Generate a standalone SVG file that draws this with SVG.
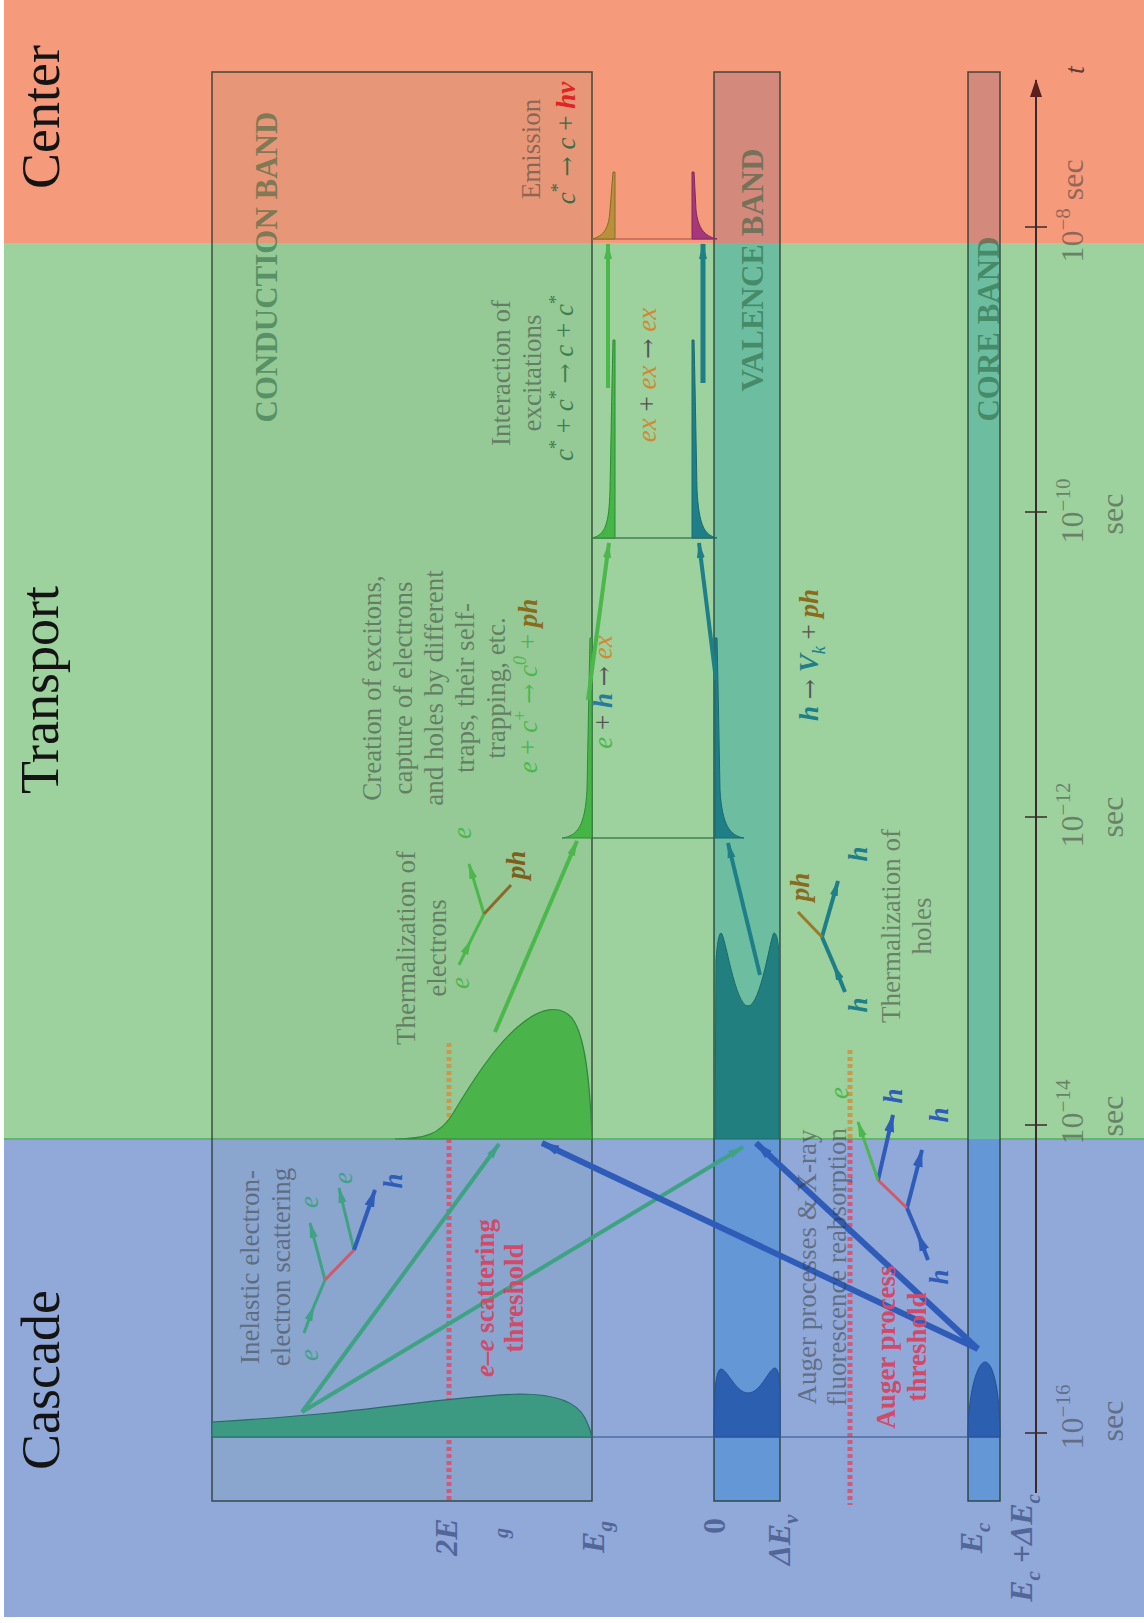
<svg xmlns="http://www.w3.org/2000/svg" width="1144" height="1623" viewBox="0 0 1144 1623">
<style>
.s{font-family:"Liberation Serif","Times New Roman",serif}
.d{font-size:27px;fill:#333;fill-opacity:.5}
.title{font-size:54px;fill:#141414}
.band{font-size:31px;font-weight:bold;fill:#245f3a;fill-opacity:.55}
.thr{font-size:27px;font-weight:bold;fill:#d24a6a}
.tick{font-size:32px;fill:#333;fill-opacity:.5}
.ax{font-size:32px;font-weight:bold;font-style:italic;fill:#53669a}
.bi{font-weight:bold;font-style:italic}
.i{font-style:italic}
.lbl{font-size:27px}
.ar{font-family:"DejaVu Serif",serif;font-size:24px}
</style>
<defs>
<marker id="aG" viewBox="0 0 16 10" markerWidth="16" markerHeight="10" refX="15" refY="5" orient="auto" markerUnits="userSpaceOnUse"><path d="M0,1 L16,5 L0,9 Z" fill="#4cb84c"/></marker>
<marker id="aGT" viewBox="0 0 16 10" markerWidth="16" markerHeight="10" refX="15" refY="5" orient="auto" markerUnits="userSpaceOnUse"><path d="M0,1 L16,5 L0,9 Z" fill="#3fa383"/></marker>
<marker id="aT" viewBox="0 0 16 10" markerWidth="16" markerHeight="10" refX="15" refY="5" orient="auto" markerUnits="userSpaceOnUse"><path d="M0,1 L16,5 L0,9 Z" fill="#1f7f88"/></marker>
<marker id="aB" viewBox="0 0 18 12" markerWidth="18" markerHeight="12" refX="17" refY="6" orient="auto" markerUnits="userSpaceOnUse"><path d="M0,1 L18,6 L0,11 Z" fill="#2f5cb8"/></marker>
<marker id="aX" viewBox="0 0 18 12" markerWidth="18" markerHeight="12" refX="17" refY="6" orient="auto" markerUnits="userSpaceOnUse"><path d="M0,0 L18,6 L0,12 Z" fill="#5a2020"/></marker>
</defs>

<g id="background">
<rect x="4" y="0" width="1140" height="243" fill="#f59a7b"/>
<rect x="4" y="243" width="1140" height="896" fill="#9dd19d"/>
<rect x="4" y="1139" width="1140" height="478" fill="#91a9d9"/>
<line x1="4" y1="1139" x2="1144" y2="1139" stroke="#62b66a" stroke-width="2"/>
</g>

<g id="titles" class="s title">
<text transform="translate(59,117) rotate(-90)" text-anchor="middle">Center</text>
<text transform="translate(58,690) rotate(-90)" text-anchor="middle">Transport</text>
<text transform="translate(59,1380) rotate(-90)" text-anchor="middle">Cascade</text>
</g>

<g id="conduction-band">
<rect x="212" y="72" width="380" height="1429" fill="#3c6e46" fill-opacity=".07" stroke="#1f3328" stroke-opacity=".8" stroke-width="1.5"/>
<text class="s band" transform="translate(277,267) rotate(-90)" text-anchor="middle">CONDUCTION BAND</text>
</g>

<g id="valence-band">
<rect x="714" y="72" width="66" height="171" fill="#d4897d"/>
<rect x="714" y="243" width="66" height="896" fill="#6dbea0"/>
<rect x="714" y="1139" width="66" height="362" fill="#6497d6"/>
<rect x="714" y="72" width="66" height="1429" fill="none" stroke="#1f3328" stroke-opacity=".8" stroke-width="1.5"/>
<text class="s band" transform="translate(763,270) rotate(-90)" text-anchor="middle">VALENCE BAND</text>
</g>

<g id="core-band">
<rect x="968" y="72" width="32" height="171" fill="#d4897d"/>
<rect x="968" y="243" width="32" height="896" fill="#6dbea0"/>
<rect x="968" y="1139" width="32" height="362" fill="#6497d6"/>
<rect x="968" y="72" width="32" height="1429" fill="none" stroke="#1f3328" stroke-opacity=".8" stroke-width="1.5"/>
<text class="s band" transform="translate(999,329) rotate(-90)" text-anchor="middle">CORE BAND</text>
</g>

<g id="time-axis">
<line x1="1036" y1="1493" x2="1036" y2="80" stroke="#3a2a2a" stroke-width="2" marker-end="url(#aX)"/>
<g stroke="#3a2a2a" stroke-width="1.5">
<line x1="1025" y1="1433" x2="1047" y2="1433"/>
<line x1="1025" y1="1125" x2="1047" y2="1125"/>
<line x1="1025" y1="817" x2="1047" y2="817"/>
<line x1="1025" y1="512" x2="1047" y2="512"/>
<line x1="1025" y1="227" x2="1047" y2="227"/>
</g>
<text class="s i" font-size="28" fill="#6a3a30" transform="translate(1084,70) rotate(-90)" text-anchor="middle">t</text>
<g class="s tick">
<text transform="translate(1083,1417) rotate(-90)" text-anchor="middle">10<tspan font-size="21" dy="-13">−16</tspan></text>
<text transform="translate(1123,1421) rotate(-90)" text-anchor="middle">sec</text>
<text transform="translate(1083,1112) rotate(-90)" text-anchor="middle">10<tspan font-size="21" dy="-13">−14</tspan></text>
<text transform="translate(1123,1116) rotate(-90)" text-anchor="middle">sec</text>
<text transform="translate(1083,815) rotate(-90)" text-anchor="middle">10<tspan font-size="21" dy="-13">−12</tspan></text>
<text transform="translate(1123,817) rotate(-90)" text-anchor="middle">sec</text>
<text transform="translate(1083,511) rotate(-90)" text-anchor="middle">10<tspan font-size="21" dy="-13">−10</tspan></text>
<text transform="translate(1123,514) rotate(-90)" text-anchor="middle">sec</text>
<text transform="translate(1083,211) rotate(-90)" text-anchor="middle">10<tspan font-size="21" dy="-13">−8</tspan><tspan dy="13"> sec</tspan></text>
</g>
</g>

<g id="energy-labels" class="s ax">
<text transform="translate(457,1537) rotate(-90)" text-anchor="middle">2E</text>
<text font-size="20" transform="translate(508,1533) rotate(-90)" text-anchor="middle">g</text>
<text transform="translate(604,1537) rotate(-90)" text-anchor="middle">E<tspan font-size="21" dy="8">g</tspan></text>
<text font-style="normal" transform="translate(725,1526) rotate(-90)" text-anchor="middle">0</text>
<text transform="translate(790,1540) rotate(-90)" text-anchor="middle">ΔE<tspan font-size="21" dy="8">v</tspan></text>
<text transform="translate(982,1538) rotate(-90)" text-anchor="middle">E<tspan font-size="21" dy="8">c</tspan></text>
<text transform="translate(1032,1548) rotate(-90)" text-anchor="middle">E<tspan font-size="21" dy="8">c</tspan><tspan dy="-8"> +ΔE</tspan><tspan font-size="21" dy="8">c</tspan></text>
</g>

<g id="thresholds" stroke-width="5" stroke-dasharray="4 3">
<line x1="449" y1="1043" x2="449" y2="1139" stroke="#c99a4e"/>
<line x1="449" y1="1139" x2="449" y2="1501" stroke="#d05a78"/>
<line x1="850" y1="1050" x2="850" y2="1139" stroke="#c99a4e"/>
<line x1="850" y1="1139" x2="850" y2="1505" stroke="#d05a78"/>
</g>

<g id="baselines" fill="none" stroke-width="1.5">
<line x1="212" y1="1437" x2="1000" y2="1437" stroke="#3f5f96" stroke-opacity=".8"/>
<line x1="592" y1="838" x2="715" y2="838" stroke="#2e6a3e" stroke-opacity=".8"/>
<line x1="592" y1="538" x2="715" y2="538" stroke="#2e6a3e" stroke-opacity=".8"/>
<line x1="592" y1="239" x2="715" y2="239" stroke="#b0604a" stroke-opacity=".8"/>
</g>

<g id="distributions">
<path id="dist-cascade-cb" d="M212,1437 L212,1422 C260,1419 300,1416 330,1413 C400,1406 460,1396 520,1394 C558,1394 578,1404 585,1418 Q590,1428 592,1437 Z" fill="#3d9a82" stroke="#2a6a6a" stroke-width="1.2"/>
<path id="dist-cascade-vb" d="M714,1437 L715,1390 C716,1378 718,1369 721,1369 C727,1369 736,1393 748,1393 C761,1393 769,1368 775,1368 C778,1368 780,1378 780,1390 L780,1437 Z" fill="#2d5fb0" stroke="#23509a" stroke-width="1"/>
<path id="dist-cascade-core" d="M968,1437 C968,1390 978,1362 985,1362 C993,1362 1000,1390 1000,1437 Z" fill="#2d5fb0" stroke="#23509a" stroke-width="1"/>
<path id="dist-14-cb" d="M395,1139 C425,1139 440,1134 452,1115 C470,1085 495,1045 520,1025 C540,1008 560,1004 572,1018 C585,1035 590,1080 592,1139 Z" fill="#4ab44a" stroke="#2f8a3a" stroke-width="1.2"/>
<path id="dist-14-vb" d="M715,1139 L716,960 C717,945 719,933 721,933 C725,933 735,1006 748,1006 C761,1006 771,933 774,933 C777,933 779,945 779,960 L779,1139 Z" fill="#21807f" stroke="#1a6a6a" stroke-width="1"/>
<path id="dist-12-cb" d="M562,838 C578,836 585,825 587,790 C588,740 589,680 590,638 L592,638 L592,838 Z" fill="#45b545" stroke="#2f8a3a" stroke-width="1"/>
<path id="dist-12-vb" d="M715,838 L715,638 L717,638 C718,680 719,740 720,790 C722,825 730,836 744,838 Z" fill="#1f7f88" stroke="#1a6a70" stroke-width="1"/>
<path id="dist-10-cb" d="M592,538 C605,535 609,525 610,490 C611,440 612,380 613,340 L615,340 L615,538 Z" fill="#45b545" stroke="#2f8a3a" stroke-width="1"/>
<path id="dist-10-vb" d="M692,538 L692,340 L694,340 C695,380 696,440 697,490 C699,525 704,535 717,538 Z" fill="#1f7f88" stroke="#1a6a70" stroke-width="1"/>
<path id="dist-8-cb" d="M592,239 C604,236 609,228 610,210 L613,172 L615,172 L615,239 Z" fill="#b8903a" stroke="#8a6a2a" stroke-width="1"/>
<path id="dist-8-vb" d="M692,239 L692,172 L694,172 L696,210 C698,228 704,236 717,239 Z" fill="#a8367a" stroke="#802a5a" stroke-width="1"/>
</g>

<g id="connectors" fill="none">
<line x1="302" y1="1412" x2="499" y2="1144" stroke="#3fa383" stroke-width="4" marker-end="url(#aGT)"/>
<line x1="302" y1="1412" x2="743" y2="1147" stroke="#3fa383" stroke-width="4" marker-end="url(#aGT)"/>
<line x1="978" y1="1349" x2="542" y2="1143" stroke="#2f5cb8" stroke-width="6" marker-end="url(#aB)"/>
<line x1="978" y1="1349" x2="756" y2="1143" stroke="#2f5cb8" stroke-width="6" marker-end="url(#aB)"/>
<line x1="495" y1="1032" x2="577" y2="841" stroke="#4cb84c" stroke-width="4" marker-end="url(#aG)"/>
<line x1="760" y1="975" x2="728" y2="843" stroke="#1f7f88" stroke-width="4" marker-end="url(#aT)"/>
<line x1="588" y1="700" x2="609" y2="543" stroke="#4cb84c" stroke-width="4" marker-end="url(#aG)"/>
<line x1="716" y1="680" x2="699" y2="543" stroke="#1f7f88" stroke-width="4" marker-end="url(#aT)"/>
<line x1="608" y1="388" x2="608" y2="244" stroke="#4cb84c" stroke-width="4" marker-end="url(#aG)"/>
<line x1="703" y1="383" x2="703" y2="244" stroke="#1f7f88" stroke-width="5" marker-end="url(#aT)"/>
</g>

<g id="inelastic-scattering">
<path d="M304,1333 L314,1306 L325,1280" fill="none" stroke="#3fa383" stroke-width="3" marker-mid="url(#aGT)"/>
<line x1="325" y1="1280" x2="310" y2="1223" stroke="#3fa383" stroke-width="3" marker-end="url(#aGT)"/>
<line x1="325" y1="1280" x2="354" y2="1250" stroke="#d05a6a" stroke-width="3"/>
<line x1="354" y1="1250" x2="339" y2="1188" stroke="#3fa383" stroke-width="3" marker-end="url(#aGT)"/>
<line x1="354" y1="1250" x2="375" y2="1190" stroke="#2f5cb8" stroke-width="4" marker-end="url(#aB)"/>
<g class="s lbl" fill="#3fa383">
<text class="i" transform="translate(318,1355) rotate(-90)" text-anchor="middle">e</text>
<text class="i" transform="translate(318,1202) rotate(-90)" text-anchor="middle">e</text>
<text class="i" transform="translate(352,1178) rotate(-90)" text-anchor="middle">e</text>
<text class="bi" fill="#2f5cb8" transform="translate(402,1181) rotate(-90)" text-anchor="middle">h</text>
</g>
<text class="s d" transform="translate(259,1267) rotate(-90)" text-anchor="middle"><tspan x="0" y="0">Inelastic electron-</tspan><tspan x="0" y="31">electron scattering</tspan></text>
</g>

<g id="ee-threshold-label">
<text class="s thr" transform="translate(494,1298) rotate(-90)" text-anchor="middle"><tspan x="0" y="0"><tspan font-style="italic">e–e</tspan> scattering</tspan><tspan x="0" y="29">threshold</tspan></text>
</g>

<g id="auger">
<text class="s d" transform="translate(816,1267) rotate(-90)" text-anchor="middle"><tspan x="0" y="0">Auger processes &amp; X-ray</tspan><tspan x="0" y="30">fluorescence reabsorption</tspan></text>
<path d="M928,1260 L918,1234 L907,1208" fill="none" stroke="#2f5cb8" stroke-width="4" marker-mid="url(#aB)"/>
<line x1="907" y1="1208" x2="922" y2="1150" stroke="#2f5cb8" stroke-width="4" marker-end="url(#aB)"/>
<line x1="907" y1="1208" x2="878" y2="1180" stroke="#d05a6a" stroke-width="3"/>
<line x1="878" y1="1180" x2="893" y2="1115" stroke="#2f5cb8" stroke-width="4" marker-end="url(#aB)"/>
<line x1="878" y1="1180" x2="858" y2="1122" stroke="#4cb84c" stroke-width="3" marker-end="url(#aG)"/>
<g class="s lbl bi" fill="#2f5cb8">
<text transform="translate(948,1277) rotate(-90)" text-anchor="middle">h</text>
<text transform="translate(948,1115) rotate(-90)" text-anchor="middle">h</text>
<text transform="translate(902,1096) rotate(-90)" text-anchor="middle">h</text>
</g>
<text class="s lbl i" fill="#4cb84c" transform="translate(848,1093) rotate(-90)" text-anchor="middle">e</text>
<text class="s thr" transform="translate(895,1347) rotate(-90)" text-anchor="middle"><tspan x="0" y="0">Auger process</tspan><tspan x="0" y="31">threshold</tspan></text>
</g>

<g id="thermalization-electrons">
<text class="s d" transform="translate(415,948) rotate(-90)" text-anchor="middle"><tspan x="0" y="0">Thermalization of</tspan><tspan x="0" y="31">electrons</tspan></text>
<path d="M459,965 L471,940 L484,914" fill="none" stroke="#4cb84c" stroke-width="3" marker-mid="url(#aG)"/>
<line x1="484" y1="914" x2="469" y2="864" stroke="#4cb84c" stroke-width="3" marker-end="url(#aG)"/>
<line x1="484" y1="914" x2="511" y2="885" stroke="#8a6a2a" stroke-width="3"/>
<text class="s lbl i" fill="#4cb84c" transform="translate(469,983) rotate(-90)" text-anchor="middle">e</text>
<text class="s lbl i" fill="#4cb84c" transform="translate(471,833) rotate(-90)" text-anchor="middle">e</text>
<text class="s lbl bi" fill="#7d5f1c" transform="translate(525,865) rotate(-90)" text-anchor="middle">ph</text>
</g>

<g id="thermalization-holes">
<text class="s d" transform="translate(900,926) rotate(-90)" text-anchor="middle"><tspan x="0" y="0">Thermalization of</tspan><tspan x="0" y="31">holes</tspan></text>
<path d="M845,992 L834,965 L822,937" fill="none" stroke="#1f7f88" stroke-width="4" marker-mid="url(#aT)"/>
<line x1="822" y1="937" x2="838" y2="881" stroke="#1f7f88" stroke-width="4" marker-end="url(#aT)"/>
<line x1="822" y1="937" x2="798" y2="912" stroke="#9a7a2a" stroke-width="3"/>
<text class="s lbl bi" fill="#1f7f88" transform="translate(867,1005) rotate(-90)" text-anchor="middle">h</text>
<text class="s lbl bi" fill="#1f7f88" transform="translate(867,854) rotate(-90)" text-anchor="middle">h</text>
<text class="s lbl bi" fill="#8a6a1c" transform="translate(809,887) rotate(-90)" text-anchor="middle">ph</text>
</g>

<g id="creation-excitons">
<text class="s d" transform="translate(381,688) rotate(-90)" text-anchor="middle"><tspan x="0" y="0">Creation of excitons,</tspan><tspan x="0" y="31">capture of electrons</tspan><tspan x="0" y="62">and holes by different</tspan><tspan x="0" y="93">traps, their self-</tspan><tspan x="0" y="124">trapping, etc.</tspan></text>
<text class="s lbl" fill="#4cb84c" transform="translate(537,686) rotate(-90)" text-anchor="middle"><tspan class="i">e</tspan> + <tspan class="i">c</tspan><tspan font-size="18" dy="-11">+</tspan><tspan dy="11"> </tspan><tspan class="ar">→</tspan> <tspan class="i">c</tspan><tspan class="i" font-size="18" dy="-11">0</tspan><tspan dy="11"> + </tspan><tspan class="bi" fill="#8a6a1c">ph</tspan></text>
<text class="s lbl" fill="#555" transform="translate(612,692) rotate(-90)" text-anchor="middle"><tspan class="i" fill="#4cb84c">e</tspan> + <tspan class="bi" fill="#2a7a9e">h</tspan> <tspan class="ar">→</tspan> <tspan class="i" fill="#d08a35">ex</tspan></text>
<text class="s lbl" fill="#555" transform="translate(818,655) rotate(-90)" text-anchor="middle"><tspan class="bi" fill="#1f7f88">h</tspan> <tspan class="ar">→</tspan> <tspan class="bi" fill="#1f7f88">V</tspan><tspan class="i" fill="#1f7f88" font-size="18" dy="7">k</tspan><tspan dy="-7"> + </tspan><tspan class="bi" fill="#8a6a1c">ph</tspan></text>
</g>

<g id="interaction-excitations">
<text class="s d" transform="translate(510,373) rotate(-90)" text-anchor="middle"><tspan x="0" y="0">Interaction of</tspan><tspan x="0" y="31">excitations</tspan></text>
<text class="s lbl" fill="#3e7e50" transform="translate(573,378) rotate(-90)" text-anchor="middle"><tspan class="i">c</tspan><tspan font-size="18" dy="-11">*</tspan><tspan dy="11"> + </tspan><tspan class="i">c</tspan><tspan font-size="18" dy="-11">*</tspan><tspan dy="11"> </tspan><tspan class="ar">→</tspan> <tspan class="i">c</tspan> + <tspan class="i">c</tspan><tspan font-size="18" dy="-11">*</tspan></text>
<text class="s lbl" fill="#555" transform="translate(656,375) rotate(-90)" text-anchor="middle"><tspan class="i" fill="#d08a35">ex</tspan> + <tspan class="i" fill="#d08a35">ex</tspan> <tspan class="ar">→</tspan> <tspan class="i" fill="#d08a35">ex</tspan></text>
</g>

<g id="emission">
<text class="s d" transform="translate(540,149) rotate(-90)" text-anchor="middle">Emission</text>
<text class="s lbl" fill="#3e6a45" transform="translate(575,143) rotate(-90)" text-anchor="middle"><tspan class="i">c</tspan><tspan font-size="18" dy="-11">*</tspan><tspan dy="11"> </tspan><tspan class="ar">→</tspan> <tspan class="i">c</tspan> + <tspan class="bi" fill="#e02424">hν</tspan></text>
</g>
</svg>
